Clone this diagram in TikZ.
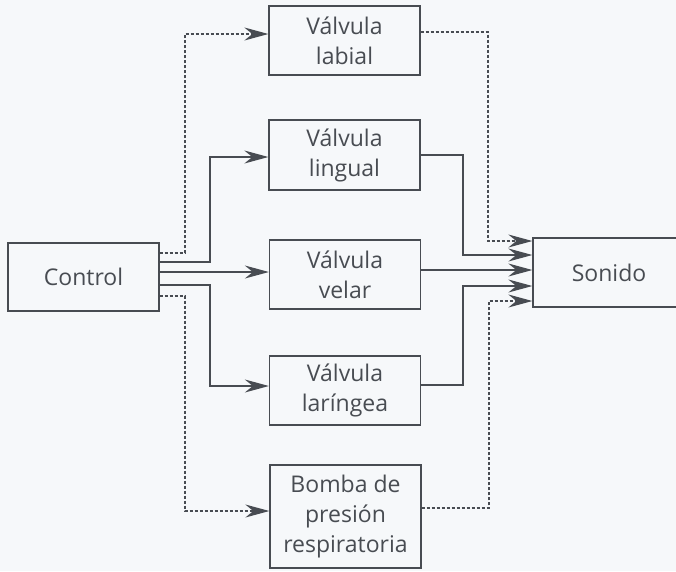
\documentclass[tikz,border=0pt]{standalone}
\usepackage{fontspec}
\setmainfont{Open Sans}
\usetikzlibrary{arrows.meta}
\definecolor{ink}{RGB}{72,76,82}
\definecolor{bg}{RGB}{246,248,250}
\begin{document}
\begin{tikzpicture}[x=1pt,y=-1pt,
  box/.style={draw=ink,line width=1.3pt,text=ink,align=center,inner sep=0pt,
    minimum width=151pt,minimum height=69pt,font=\fontsize{23}{30}\selectfont},
  conn/.style={draw=ink,line width=1.3pt,-{Stealth[length=24pt,width=13pt,inset=8pt]}},
  dsh/.style={conn,dash pattern=on 3pt off 2pt},
  sol/.style={conn}]
\fill[bg] (0,0) rectangle (676,571);
\useasboundingbox (0,0) rectangle (676,571);
\clip (0,0) rectangle (676,571);
\node[box,minimum height=68pt] (control) at (83.5,277) {Control};
\node[box] (labial) at (344.5,40.5) {Válvula\\labial};
\node[box,minimum height=70pt] (lingual) at (344.5,155) {Válvula\\lingual};
\node[box] (velar) at (345,274.5) {Válvula\\velar};
\node[box] (laringea) at (345,390.5) {Válvula\\laríngea};
\node[box,minimum height=103pt] (bomba) at (345.5,516.5) {Bomba de\\presión\\respiratoria};
\node[box,minimum width=152pt] (sonido) at (609,272.5) {Sonido};
% control -> valves
\draw[dsh] ([yshift=24pt]control.east) -- (185,253) |- ([yshift=6.5pt]labial.west);
\draw[sol] ([yshift=15pt]control.east) -- (210,262) |- ([yshift=-2pt]lingual.west);
\draw[sol] ([yshift=5pt]control.east) -- ([yshift=2.5pt]velar.west);
\draw[sol] ([yshift=-8pt]control.east) -- (210,285) |- ([yshift=4.5pt]laringea.west);
\draw[dsh] ([yshift=-19pt]control.east) -- (185,296) |- ([yshift=5.5pt]bomba.west);
% valves -> sonido
\draw[dsh] ([yshift=8.5pt]labial.east) -- (488,32) |- ([yshift=31.5pt]sonido.west);
\draw[sol] (lingual.east) -- (463,155) |- ([yshift=17.5pt]sonido.west);
\draw[sol] ([yshift=4.5pt]velar.east) -- ([yshift=2.5pt]sonido.west);
\draw[sol] ([yshift=5.5pt]laringea.east) -- (463,385) |- ([yshift=-13.5pt]sonido.west);
\draw[dsh] ([yshift=8.5pt]bomba.east) -- (489,508) |- ([yshift=-28.5pt]sonido.west);
\end{tikzpicture}
\end{document}
